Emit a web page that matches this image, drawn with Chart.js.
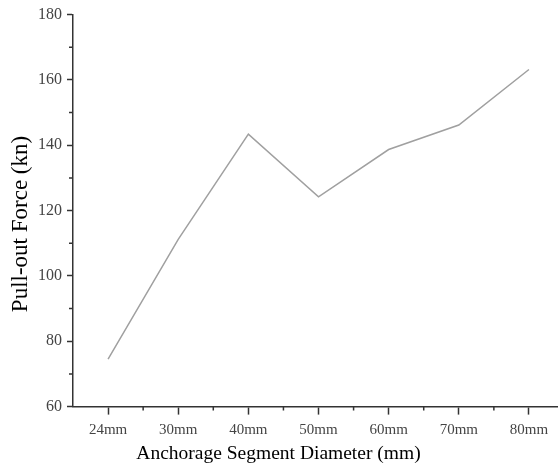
<!DOCTYPE html>
<html>
<head>
<meta charset="utf-8">
<script src="https://cdn.jsdelivr.net/npm/chart.js@4.4.0/dist/chart.umd.min.js"></script>
<style>
  html, body { margin: 0; padding: 0; background: #fff; }
  #wrap { width: 558px; height: 468px; }
</style>
</head>
<body>
<div id="wrap"><canvas id="pullChart"></canvas></div>
<script>
// diameter categories and measured pull-out force (kN)
const diameters = ['24mm', '30mm', '40mm', '50mm', '60mm', '70mm', '80mm'];
const pullForce = [74.5, 111.2, 143.4, 124.2, 138.7, 146.2, 163.2];
const yTicks = [60, 80, 100, 120, 140, 160, 180];

const xTitle = 'Anchorage Segment Diameter (mm)';
const yTitle = 'Pull-out Force (kn)';

const axisColor = '#333';
const serif = "'Liberation Serif', 'Times New Roman', serif";

// short minor ticks between the major ones + the y title (sits a bit below centre in the original)
const extras = {
    id: 'extras',
    afterDraw(chart) {
        const ctx = chart.ctx;
        const x = chart.scales.x, y = chart.scales.y;
        ctx.save();
        ctx.strokeStyle = axisColor;
        ctx.lineWidth = 1.5;
        ctx.beginPath();
        for (let i = 0; i < diameters.length; i++) {
            const v = i + 0.5;
            if (v > x.max) break;
            const px = x.getPixelForValue(v);
            ctx.moveTo(px, y.bottom);
            ctx.lineTo(px, y.bottom + 4);
        }
        for (let i = 0; i < yTicks.length - 1; i++) {
            const py = y.getPixelForValue((yTicks[i] + yTicks[i + 1]) / 2);
            ctx.moveTo(x.left, py);
            ctx.lineTo(x.left - 4, py);
        }
        ctx.stroke();

        ctx.translate(21, 224);
        ctx.rotate(-Math.PI / 2);
        ctx.fillStyle = '#000';
        ctx.font = '23px ' + serif;
        ctx.textAlign = 'center';
        ctx.textBaseline = 'middle';
        ctx.fillText(yTitle, 0, 0);
        ctx.restore();
    }
};

const ctx = document.getElementById('pullChart').getContext('2d');
new Chart(ctx, {
    type: 'line',
    data: {
        datasets: [{
            label: 'Pull-out Force',
            data: pullForce.map((v, i) => ({ x: i, y: v })),
            borderColor: '#a0a0a0',
            borderWidth: 1.5,
            pointRadius: 0,
            tension: 0,
            fill: false
        }]
    },
    options: {
        responsive: true,
        maintainAspectRatio: false,
        animation: false,
        layout: { padding: { top: 8, right: 1, left: 0, bottom: 0 } },
        plugins: {
            legend: { display: false },
            tooltip: { enabled: false },
            title: {
                display: true,
                position: 'bottom',
                text: xTitle,
                color: '#000',
                font: { family: serif, size: 19.5, weight: 'normal' },
                padding: { top: 0, bottom: 2 }
            }
        },
        scales: {
            x: {
                type: 'linear',
                min: -0.5,
                max: 6.4,
                afterBuildTicks: s => { s.ticks = diameters.map((_, i) => ({ value: i })); },
                afterFit: s => { s.height = 36; },
                grid: { drawOnChartArea: false, tickLength: 8, tickColor: axisColor, tickWidth: 1.5 },
                border: { color: axisColor, width: 1.5 },
                ticks: {
                    color: '#444',
                    padding: 6,
                    maxRotation: 0,
                    font: { family: serif, size: 15 },
                    callback: v => diameters[v] || ''
                }
            },
            y: {
                min: 60,
                max: 180,
                afterBuildTicks: s => { s.ticks = yTicks.map(v => ({ value: v })); },
                afterFit: s => { s.width = 73; },
                grid: { drawOnChartArea: false, tickLength: 6, tickColor: axisColor, tickWidth: 1.5 },
                border: { color: axisColor, width: 1.5 },
                ticks: {
                    color: '#444',
                    padding: 5,
                    font: { family: serif, size: 16 }
                }
            }
        }
    },
    plugins: [extras]
});
</script>
</body>
</html>
